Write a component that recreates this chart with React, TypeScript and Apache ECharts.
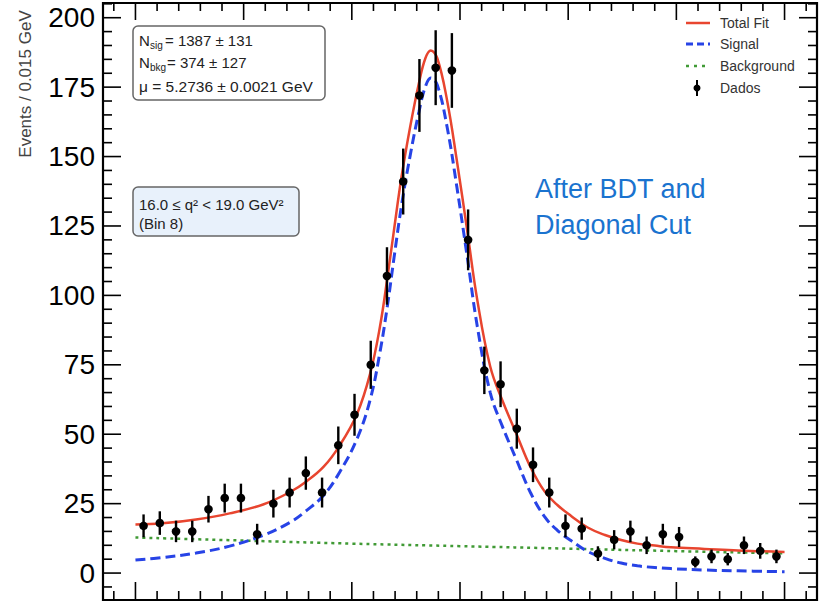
import React, { useEffect, useRef } from "react";
import * as echarts from "echarts";

// ---------------- data ----------------
// Histogram: 40 bins of 0.015 GeV starting at 5.0 GeV
const BIN_START = 5.0;
const BIN_WIDTH = 0.015;
const counts = [
  17, 18, 15, 15, 23, 27, 27, 14, 25, 29, 36, 29, 46, 57, 75, 107, 141, 172, 182, 181,
  120, 73, 68, 52, 39, 29, 17, 16, 7, 12, 15, 10, 14, 13, 4, 6, 5, 10, 8, 6,
];

// Fit curves
const fitX = [
  5.0, 5.025, 5.056, 5.087, 5.118, 5.143, 5.158, 5.174, 5.189, 5.205, 5.217, 5.226, 5.233,
  5.239, 5.246, 5.254, 5.262, 5.268, 5.273, 5.279, 5.288, 5.297, 5.307, 5.316, 5.328, 5.339,
  5.352, 5.365, 5.378, 5.39, 5.403, 5.418, 5.434, 5.449, 5.464, 5.48, 5.495, 5.526, 5.557, 5.6,
];
const totalFit = [
  17.5, 17.9, 19.3, 21.5, 24.7, 29.2, 33.0, 38.3, 46.1, 57.5, 71.9, 88.7, 106.7, 123.6, 142.8,
  160.8, 176.4, 185.4, 188.2, 185.4, 170.4, 148.8, 122.4, 98.3, 74.3, 62.3, 50.3, 38.3, 29.5,
  24.5, 20.5, 16.4, 13.7, 11.9, 10.6, 9.9, 9.3, 8.7, 8.1, 7.6,
];
const signalFit = [
  4.7, 5.6, 7.2, 9.7, 13.6, 18.3, 22.5, 28.0, 36.5, 48.5, 62.5, 79.5, 96.5, 113.5, 132.5,
  150.5, 166.0, 175.2, 178.3, 175.8, 160.8, 139.3, 113.0, 88.8, 64.9, 53.0, 41.0, 29.1, 20.4,
  15.4, 11.6, 7.8, 5.3, 3.6, 2.6, 2.0, 1.6, 1.1, 0.8, 0.5,
];
const bkgX = [5.0, 5.1, 5.2, 5.3, 5.4, 5.5, 5.6];
const bkgFit = [12.8, 11.7, 10.6, 9.7, 8.8, 7.9, 7.1];

// Axis ticks
const xMajorTicks = [5.0, 5.1, 5.2, 5.3, 5.4, 5.5, 5.6];
const xMinorTicks = [
  4.98, 5.02, 5.04, 5.06, 5.08, 5.12, 5.14, 5.16, 5.18, 5.22, 5.24, 5.26, 5.28, 5.32, 5.34,
  5.36, 5.38, 5.42, 5.44, 5.46, 5.48, 5.52, 5.54, 5.56, 5.58, 5.62,
];
const yMajorTicks = [0, 25, 50, 75, 100, 125, 150, 175, 200];
const yMinorTicks = [
  -5, 5, 10, 15, 20, 30, 35, 40, 45, 55, 60, 65, 70, 80, 85, 90, 95, 105, 110, 115, 120, 130,
  135, 140, 145, 155, 160, 165, 170, 180, 185, 190, 195, 205,
];

const X_MIN = 4.97;
const X_MAX = 5.63;
const Y_MIN = -9.7;
const Y_MAX = 205.3;

const RED = "#e8452f";
const BLUE = "#2743e6";
const GREEN = "#409a35";
const ANNOT = "#1a73cf";
const FONT = "'Liberation Sans', Arial, Helvetica, sans-serif";

function txt(x: number, y: number, text: string, size: number, fill: string, extra: any = {}) {
  return {
    type: "text",
    x,
    y,
    z: 100,
    style: {
      text,
      fontSize: size,
      fontFamily: FONT,
      fill,
      textAlign: "left",
      textVerticalAlign: "middle",
      ...extra,
    },
  };
}

export default function App() {
  const ref = useRef<HTMLDivElement>(null);

  useEffect(() => {
    if (!ref.current) return;
    const chart = echarts.init(ref.current, undefined, { renderer: "svg" });

    const points = counts.map((n, i) => {
      const x = BIN_START + BIN_WIDTH * (i + 0.5);
      const e = Math.sqrt(n); // statistical error bar
      return [x, n, n - e, n + e];
    });

    // kind: 0 = x tick, 1 = y tick, 2 = frame ; third value = tick length
    const frameData = [
      ...xMajorTicks.map((v) => [v, Y_MIN, 0, 18]),
      ...xMinorTicks.map((v) => [v, Y_MIN, 0, 9]),
      ...yMajorTicks.map((v) => [X_MIN, v, 1, 18]),
      ...yMinorTicks.map((v) => [X_MIN, v, 1, 9]),
      [X_MIN, Y_MIN, 2, 0],
    ];

    const option: any = {
      animation: false,
      backgroundColor: "#fff",
      grid: {
        left: 103,
        right: 13,
        top: 3,
        bottom: 2,
        containLabel: false,
        outerBoundsMode: "none",
        show: false,
      },
      xAxis: {
        type: "value",
        min: X_MIN,
        max: X_MAX,
        position: "bottom",
        axisLine: { show: false, onZero: false },
        splitLine: { show: false },
        axisLabel: { show: false },
        axisTick: { show: false },
      },
      yAxis: {
        type: "value",
        min: Y_MIN,
        max: Y_MAX,
        position: "left",
        axisLine: { show: false, onZero: false },
        splitLine: { show: false },
        axisTick: { show: false },
        axisLabel: {
          show: true,
          customValues: yMajorTicks,
          fontSize: 28,
          color: "#000",
          fontFamily: FONT,
          margin: 8,
        },
      },
      series: [
        {
          name: "frame",
          type: "custom",
          silent: true,
          clip: false,
          data: frameData,
          z: 10,
          renderItem: (params: any, api: any) => {
            const cs = params.coordSys;
            const kind = api.value(2);
            const len = api.value(3);
            const st = { stroke: "#000", lineWidth: 1.6 };
            const xr = cs.x + cs.width;
            const yb = cs.y + cs.height;
            if (kind === 2) {
              return {
                type: "rect",
                shape: { x: cs.x, y: cs.y, width: cs.width, height: cs.height },
                style: { fill: "none", stroke: "#000", lineWidth: 2.2 },
              };
            }
            if (kind === 0) {
              const px = api.coord([api.value(0), 0])[0];
              return {
                type: "group",
                children: [
                  { type: "line", shape: { x1: px, y1: yb, x2: px, y2: yb - len }, style: st },
                  { type: "line", shape: { x1: px, y1: cs.y, x2: px, y2: cs.y + len - 1 }, style: st },
                ],
              };
            }
            const py = api.coord([5.0, api.value(1)])[1];
            return {
              type: "group",
              children: [
                { type: "line", shape: { x1: cs.x, y1: py, x2: cs.x + len, y2: py }, style: st },
                { type: "line", shape: { x1: xr, y1: py, x2: xr - len, y2: py }, style: st },
              ],
            };
          },
        },
        {
          name: "Background",
          type: "line",
          data: bkgX.map((x, i) => [x, bkgFit[i]]),
          smooth: true,
          showSymbol: false,
          silent: true,
          lineStyle: { color: GREEN, width: 2.5, type: [3, 4] },
          z: 2,
        },
        {
          name: "Signal",
          type: "line",
          data: fitX.map((x, i) => [x, signalFit[i]]),
          smooth: 0.4,
          showSymbol: false,
          silent: true,
          lineStyle: { color: BLUE, width: 3, type: [10, 5] },
          z: 3,
        },
        {
          name: "Total Fit",
          type: "line",
          data: fitX.map((x, i) => [x, totalFit[i]]),
          smooth: 0.4,
          showSymbol: false,
          silent: true,
          lineStyle: { color: RED, width: 2.5 },
          z: 4,
        },
        {
          name: "Dados",
          type: "custom",
          data: points,
          z: 5,
          renderItem: (params: any, api: any) => {
            const x = api.value(0);
            const y = api.value(1);
            const lo = api.value(2);
            const hi = api.value(3);
            const pHi = api.coord([x, hi]);
            const pLo = api.coord([x, lo]);
            const c = api.coord([x, y]);
            return {
              type: "group",
              children: [
                {
                  type: "line",
                  shape: { x1: pHi[0], y1: pHi[1], x2: pLo[0], y2: pLo[1] },
                  style: { stroke: "#000", lineWidth: 2.4 },
                },
                {
                  type: "circle",
                  shape: { cx: c[0], cy: c[1], r: 4.3 },
                  style: { fill: "#000" },
                },
              ],
            };
          },
        },
      ],
      graphic: [
        // y axis title
        {
          type: "text",
          x: 25,
          y: 84,
          rotation: Math.PI / 2,
          style: {
            text: "Events / 0.015 GeV",
            fontSize: 17,
            fontFamily: FONT,
            fill: "#444",
            textAlign: "center",
            textVerticalAlign: "middle",
          },
        },
        // legend
        { type: "line", z: 100, shape: { x1: 686, y1: 23, x2: 710, y2: 23 }, style: { stroke: RED, lineWidth: 2.5 } },
        { type: "line", z: 100, shape: { x1: 686, y1: 44, x2: 710, y2: 44 }, style: { stroke: BLUE, lineWidth: 3, lineDash: [7, 4] } },
        { type: "line", z: 100, shape: { x1: 686, y1: 66, x2: 710, y2: 66 }, style: { stroke: GREEN, lineWidth: 2.5, lineDash: [3, 5] } },
        { type: "line", z: 100, shape: { x1: 697, y1: 80, x2: 697, y2: 96 }, style: { stroke: "#000", lineWidth: 2 } },
        { type: "circle", z: 100, shape: { cx: 697, cy: 88, r: 3.5 }, style: { fill: "#000" } },
        txt(720, 23, "Total Fit", 14, "#333"),
        txt(720, 44, "Signal", 14, "#333"),
        txt(720, 66, "Background", 14, "#333"),
        txt(720, 88, "Dados", 14, "#333"),
        // fit result box
        {
          type: "rect",
          z: 90,
          shape: { x: 133, y: 26, width: 192, height: 74, r: 5 },
          style: { fill: "#fff", stroke: "#666", lineWidth: 1.5 },
        },
        txt(139, 40, "N", 15, "#222"),
        txt(150, 45, "sig", 10, "#222"),
        txt(165, 40, "= 1387 ± 131", 15, "#222"),
        txt(139, 62, "N", 15, "#222"),
        txt(150, 67, "bkg", 10, "#222"),
        txt(167, 62, "= 374 ± 127", 15, "#222"),
        txt(139, 86, "μ = 5.2736 ± 0.0021 GeV", 15.5, "#222"),
        // bin box
        {
          type: "rect",
          z: 90,
          shape: { x: 133, y: 187, width: 166, height: 49, r: 5 },
          style: { fill: "#e8f1fb", stroke: "#666", lineWidth: 1.5 },
        },
        txt(139, 204, "16.0 ≤ q² < 19.0 GeV²", 15, "#222"),
        txt(139, 223, "(Bin 8)", 15, "#222"),
        // annotation
        txt(535, 189, "After BDT and", 27, ANNOT),
        txt(535, 225, "Diagonal Cut", 27, ANNOT),
      ],
    };

    chart.setOption(option);
    return () => {
      chart.dispose();
    };
  }, []);

  return (
    <div
      ref={ref}
      style={{ position: "fixed", left: 0, top: 0, width: 830, height: 602, background: "#fff" }}
    />
  );
}
